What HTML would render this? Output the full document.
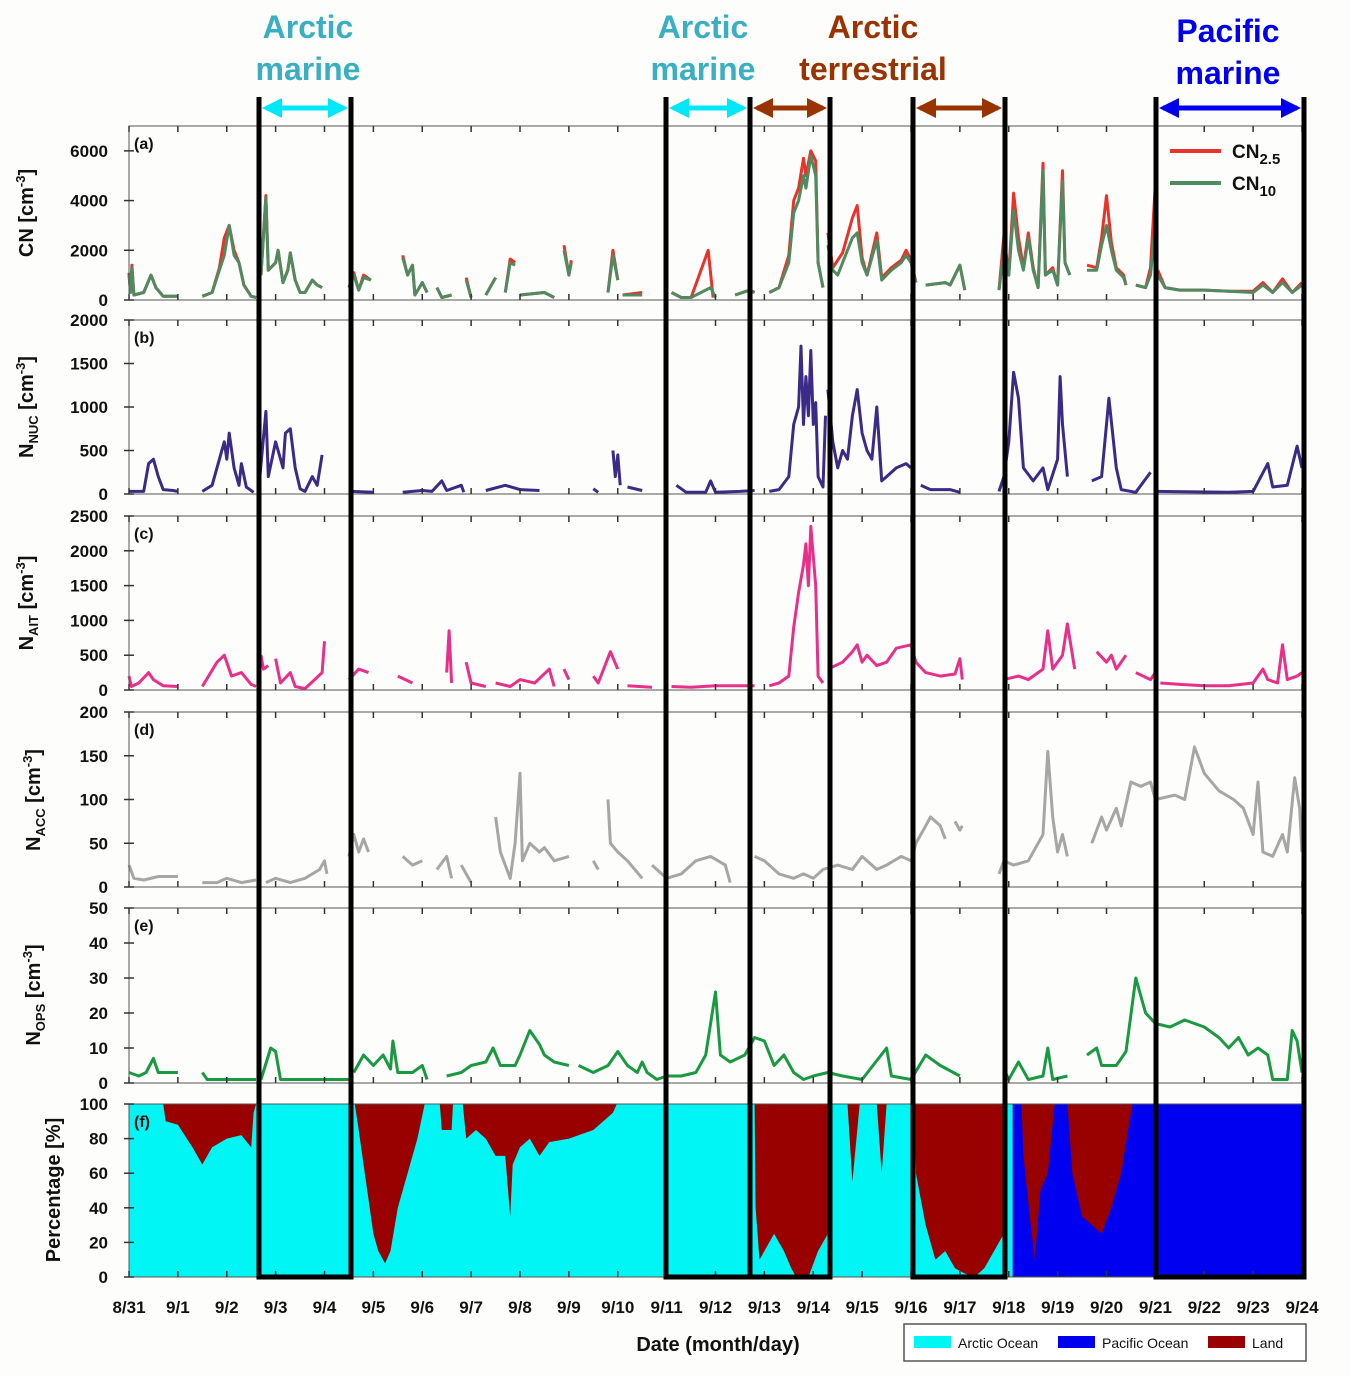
<!DOCTYPE html>
<html><head><meta charset="utf-8"><style>
body{margin:0;background:#fdfdfb;}
svg{display:block;font-family:"Liberation Sans",Arial,sans-serif;}
</style></head><body>
<svg id="c" width="1351" height="1376" viewBox="0 0 1351 1376"></svg>
<script>
const dayLabels=["8/31","9/1","9/2","9/3","9/4","9/5","9/6","9/7","9/8","9/9","9/10","9/11","9/12","9/13","9/14","9/15","9/16","9/17","9/18","9/19","9/20","9/21","9/22","9/23","9/24"];
const cn25=[[0,1100],[0.03,300],[0.06,1400],[0.1,200],[0.3,300],[0.45,1000],[0.55,500],[0.7,150],[1.0,150],null,[1.5,150],[1.7,300],[1.85,1300],[1.95,2500],[2.05,3000],[2.15,2000],[2.25,1500],[2.35,600],[2.5,150],[2.6,100],null,[2.7,1000],[2.8,4200],[2.85,1200],[3.0,1500],[3.05,2000],[3.15,700],[3.25,1200],[3.3,1900],[3.4,800],[3.5,300],[3.6,300],[3.75,800],[3.85,600],[3.95,500],null,[4.5,500],[4.6,1100],[4.7,400],[4.8,1000],[4.95,800],null,[5.6,1800],[5.7,1000],[5.8,1400],[5.85,200],[6.0,700],[6.1,300],null,[6.3,500],[6.4,100],[6.6,200],null,[6.9,900],[7.0,100],null,[7.3,200],[7.5,900],null,[7.7,300],[7.8,1650],[7.9,1500],null,[8.0,200],[8.5,300],[8.7,100],null,[8.9,2200],[9.0,1000],[9.05,1600],null,[9.8,300],[9.9,2000],[10.0,800],null,[10.1,200],[10.5,300],null,[11.1,300],[11.3,100],[11.5,100],[11.85,2000],[11.95,100],null,[12.4,200],[12.7,400],[12.8,300],null,[13.1,300],[13.3,500],[13.5,1800],[13.6,4000],[13.7,4500],[13.8,5700],[13.85,5000],[13.95,6000],[14.05,5600],[14.1,1500],[14.2,500],null,[14.3,2700],[14.4,1300],[14.5,1600],[14.6,1900],[14.8,3300],[14.9,3800],[15.0,1700],[15.1,1000],[15.3,2700],[15.4,900],[15.6,1300],[15.8,1600],[15.9,2000],[16.0,1600],[16.1,700],null,[16.3,600],[16.7,700],[16.8,600],[17.0,1400],[17.1,400],null,[17.8,400],[17.9,2600],[18.0,1000],[18.1,4300],[18.2,2500],[18.3,1300],[18.4,2700],[18.5,1300],[18.6,500],[18.7,5500],[18.75,1000],[18.9,1300],[19.0,600],[19.1,5200],[19.15,1500],[19.25,1000],null,[19.6,1400],[19.8,1300],[19.9,2500],[20.0,4200],[20.1,2300],[20.2,1300],[20.35,1000],[20.4,600],null,[20.6,600],[20.8,500],[20.9,1300],[21.0,4700],null,[21.05,1200],[21.2,500],[21.5,400],[22,400],[22.5,350],[23,350],[23.2,700],[23.4,300],[23.6,850],[23.8,300],[24,700]];
const cn10=[[0,1000],[0.03,300],[0.06,1300],[0.1,200],[0.3,300],[0.45,1000],[0.55,500],[0.7,150],[1.0,150],null,[1.5,150],[1.7,300],[1.85,1200],[1.95,1800],[2.05,3000],[2.15,1800],[2.25,1500],[2.35,600],[2.5,150],[2.6,100],null,[2.7,1000],[2.8,4100],[2.85,1200],[3.0,1500],[3.05,2000],[3.15,700],[3.25,1200],[3.3,1900],[3.4,800],[3.5,300],[3.6,300],[3.75,800],[3.85,600],[3.95,500],null,[4.5,500],[4.6,1000],[4.7,400],[4.8,900],[4.95,800],null,[5.6,1700],[5.7,1000],[5.8,1400],[5.85,200],[6.0,700],[6.1,300],null,[6.3,500],[6.4,100],[6.6,200],null,[6.9,800],[7.0,100],null,[7.3,200],[7.5,900],null,[7.7,300],[7.8,1500],[7.9,1400],null,[8.0,200],[8.5,300],[8.7,100],null,[8.9,2000],[9.0,1000],[9.05,1500],null,[9.8,300],[9.9,1800],[10.0,800],null,[10.1,200],[10.5,200],null,[11.1,300],[11.3,100],[11.5,100],[11.9,500],[12.0,100],null,[12.4,200],[12.7,400],[12.8,300],null,[13.1,300],[13.3,500],[13.5,1500],[13.6,3500],[13.7,4000],[13.8,5000],[13.85,4500],[13.95,5800],[14.05,5000],[14.1,1500],[14.2,500],null,[14.3,2200],[14.4,1200],[14.5,1000],[14.6,1500],[14.8,2500],[14.9,2700],[15.0,1500],[15.1,1000],[15.3,2400],[15.4,800],[15.6,1200],[15.8,1500],[15.9,1800],[16.0,1500],[16.1,700],null,[16.3,600],[16.7,700],[16.8,600],[17.0,1400],[17.1,400],null,[17.8,400],[17.9,2000],[18.0,1000],[18.1,3600],[18.2,2000],[18.3,1200],[18.4,2500],[18.5,1200],[18.6,500],[18.7,5200],[18.75,1000],[18.9,1200],[19.0,600],[19.1,4800],[19.15,1500],[19.25,1000],null,[19.6,1200],[19.8,1200],[19.9,2200],[20.0,3000],[20.1,2000],[20.2,1200],[20.35,900],[20.4,600],null,[20.6,600],[20.8,500],[20.9,1000],[21.0,3000],null,[21.05,1000],[21.2,500],[21.5,400],[22,400],[22.5,350],[23,300],[23.2,600],[23.4,300],[23.6,700],[23.8,300],[24,600]];
const nNuc=[[0,30],[0.3,30],[0.4,350],[0.5,400],[0.6,200],[0.7,50],[0.9,40],[1.0,30],null,[1.5,30],[1.7,100],[1.85,400],[1.95,600],[2.0,400],[2.05,700],[2.15,300],[2.25,100],[2.3,350],[2.4,80],[2.55,20],null,[2.65,30],[2.8,950],[2.85,200],[3.0,600],[3.05,500],[3.15,300],[3.2,700],[3.3,750],[3.4,300],[3.5,60],[3.6,30],[3.75,200],[3.85,100],[3.95,450],null,[4.55,30],[5.0,20],null,[5.6,20],[6.0,40],[6.2,30],[6.4,150],[6.5,40],[6.8,100],[6.85,20],null,[7.3,40],[7.7,100],[8.0,50],[8.4,40],null,[9.5,60],[9.6,20],null,[9.9,500],[9.95,200],[10.0,450],[10.05,100],null,[10.2,80],[10.5,40],null,[11.2,100],[11.4,20],[11.8,20],[11.9,150],[12.0,20],[12.5,30],[12.8,40],null,[13.1,30],[13.3,50],[13.5,200],[13.6,800],[13.7,1000],[13.75,1700],[13.8,800],[13.85,1350],[13.9,900],[13.95,1650],[14.0,800],[14.05,1050],[14.1,200],[14.2,80],[14.25,900],null,[14.3,1200],[14.4,600],[14.5,300],[14.6,500],[14.7,400],[14.8,900],[14.9,1200],[15.0,700],[15.1,500],[15.2,400],[15.3,1000],[15.4,150],[15.5,200],[15.7,300],[15.9,350],[16.0,300],null,[16.2,100],[16.4,50],[16.8,50],[17.0,20],null,[17.8,30],[17.9,200],[18.0,600],[18.1,1400],[18.2,1100],[18.3,300],[18.5,150],[18.7,300],[18.8,50],[19.0,400],[19.05,1350],[19.1,800],[19.2,200],null,[19.7,150],[19.9,200],[20.0,800],[20.05,1100],[20.2,300],[20.3,50],[20.6,20],[20.9,250],null,[21.0,30],[22.5,20],[23.0,30],[23.3,350],[23.4,80],[23.7,100],[23.9,550],[24,300]];
const nAit=[[0,200],[0.05,50],[0.2,100],[0.4,250],[0.5,150],[0.7,60],[1.0,50],null,[1.5,50],[1.8,400],[1.95,500],[2.1,200],[2.3,250],[2.5,80],[2.6,50],null,[2.7,500],[2.75,300],[2.85,350],null,[3.0,450],[3.1,100],[3.3,250],[3.4,50],[3.6,20],[3.8,150],[3.95,250],[4.0,700],null,[4.5,150],[4.7,300],[4.9,250],null,[5.5,200],[5.8,100],null,[6.3,550],null,[6.5,250],[6.55,850],[6.6,100],null,[6.9,400],[7.0,100],[7.3,50],null,[7.5,100],[7.8,50],[8.0,150],[8.3,100],[8.6,300],[8.7,50],null,[8.9,300],[9.0,150],null,[9.5,200],[9.6,100],[9.85,550],[10.0,300],null,[10.2,60],[10.7,40],null,[11.1,50],[11.5,40],[12.0,60],[12.8,60],null,[13.1,60],[13.3,100],[13.5,200],[13.6,900],[13.7,1400],[13.8,1800],[13.85,2100],[13.9,1500],[13.95,2350],[14.05,1500],[14.1,200],[14.2,100],null,[14.3,300],[14.6,400],[14.8,550],[14.9,650],[15.0,400],[15.1,500],[15.3,350],[15.5,400],[15.7,600],[16.0,650],[16.1,400],[16.3,250],[16.6,200],[16.9,230],[17.0,450],[17.05,150],null,[17.9,150],[18.2,200],[18.4,150],[18.7,300],[18.8,850],[18.9,300],[19.1,500],[19.2,950],[19.35,300],null,[19.8,550],[20.0,400],[20.1,500],[20.2,300],[20.4,500],null,[20.6,250],[20.9,150],[21.0,250],null,[21.1,100],[21.5,80],[22,60],[22.5,60],[23.0,100],[23.2,300],[23.3,150],[23.5,100],[23.6,650],[23.7,150],[23.9,200],[24,250]];
const nAcc=[[0,25],[0.1,10],[0.3,8],[0.6,12],[1.0,12],null,[1.5,5],[1.8,5],[2.0,10],[2.3,5],[2.6,8],null,[2.8,5],[3.0,10],[3.3,5],[3.6,10],[3.9,20],[4.0,30],[4.05,15],null,[4.5,35],[4.6,60],[4.7,40],[4.8,55],[4.9,40],null,[5.6,35],[5.8,25],[6.0,30],null,[6.3,20],[6.5,35],[6.6,10],null,[6.8,25],[7.0,5],null,[7.5,80],[7.6,40],[7.8,10],[7.9,50],[8.0,130],[8.05,30],[8.2,50],[8.4,40],[8.5,45],[8.7,30],[9.0,35],null,[9.5,30],[9.6,20],null,[9.8,100],[9.85,50],[10.0,40],[10.2,30],[10.5,10],null,[10.7,25],[11.0,10],[11.3,15],[11.6,30],[11.9,35],[12.2,25],[12.3,5],null,[12.8,35],[13.0,30],[13.3,15],[13.6,10],[13.8,15],[14.0,10],[14.2,20],[14.5,25],[14.8,20],[15.0,35],[15.3,20],[15.5,25],[15.8,35],[16.0,30],[16.1,50],[16.3,70],[16.4,80],[16.6,70],[16.7,55],null,[16.9,75],[17.0,65],[17.05,70],null,[17.8,15],[17.9,30],[18.1,25],[18.4,30],[18.7,60],[18.8,155],[18.9,80],[19.0,40],[19.1,60],[19.2,35],null,[19.7,50],[19.9,80],[20.0,65],[20.2,90],[20.3,70],[20.5,120],[20.7,115],[20.9,120],[21.0,100],[21.4,105],[21.6,100],[21.8,160],[22.0,130],[22.3,110],[22.6,100],[22.8,90],[23.0,60],[23.1,120],[23.2,40],[23.4,35],[23.6,60],[23.7,40],[23.85,125],[23.95,90],[24,40]];
const nOps=[[0,3],[0.2,2],[0.35,3],[0.5,7],[0.6,3],[0.8,3],[1.0,3],null,[1.5,3],[1.6,1],[2.0,1],[2.6,1],null,[2.7,1],[2.9,10],[3.0,9],[3.1,1],[3.5,1],[4.0,1],[4.5,1],null,[4.6,3],[4.8,8],[5.0,5],[5.2,8],[5.35,4],[5.4,12],[5.5,3],[5.8,3],[6.0,5],[6.1,1],null,[6.5,2],[6.8,3],[7.0,5],[7.3,6],[7.45,10],[7.6,5],[7.9,5],[8.0,8],[8.2,15],[8.4,11],[8.5,8],[8.7,6],[9.0,5],null,[9.2,5],[9.5,3],[9.8,5],[10.0,9],[10.2,5],[10.4,3],[10.5,6],[10.6,3],[10.8,1],[11.0,2],[11.3,2],[11.6,3],[11.8,8],[12.0,26],[12.1,8],[12.3,6],[12.6,8],[12.8,13],[13.0,12],[13.2,5],[13.4,8],[13.6,3],[13.8,1],[14.0,2],[14.3,3],[14.6,2],[15.0,1],[15.5,10],[15.6,2],[16.0,1],[16.3,8],[16.6,5],[17.0,2],null,[17.9,4],[18.0,1],[18.2,6],[18.4,1],[18.7,2],[18.8,10],[18.9,1],[19.2,2],null,[19.6,8],[19.8,10],[19.9,5],[20.2,5],[20.4,9],[20.6,30],[20.7,25],[20.8,20],[21.0,17],[21.3,16],[21.6,18],[22.0,16],[22.3,13],[22.5,10],[22.7,13],[22.9,8],[23.1,10],[23.3,8],[23.4,1],[23.7,1],[23.8,15],[23.9,12],[24,3]];
const landPct=[[0.7,0],[0.75,10],[1.0,12],[1.3,25],[1.5,35],[1.7,25],[2.0,20],[2.3,18],[2.5,25],[2.55,5],[2.6,0],null,[4.62,0],[4.7,15],[4.85,45],[5.0,75],[5.1,85],[5.24,92],[5.35,85],[5.5,60],[5.7,40],[5.9,20],[6.05,0],null,[6.36,0],[6.4,15],[6.6,15],[6.63,0],null,[6.83,0],[6.9,20],[7.1,15],[7.3,20],[7.5,30],[7.7,30],[7.8,65],[7.85,35],[8.0,25],[8.2,20],[8.4,30],[8.6,22],[9.0,20],[9.5,15],[9.9,5],[9.98,0],null,[12.8,0],[12.82,60],[12.9,90],[13.0,85],[13.2,75],[13.4,85],[13.55,95],[13.65,100],[13.9,100],[14.1,85],[14.3,75],[14.38,0],null,[14.7,0],[14.8,45],[14.95,0],null,[15.3,0],[15.4,40],[15.5,0],null,[16.07,0],[16.1,40],[16.3,70],[16.5,90],[16.7,85],[16.9,95],[17.1,98],[17.3,100],[17.5,95],[17.7,85],[17.9,75],[17.92,0],null,[18.26,0],[18.3,30],[18.45,70],[18.53,90],[18.65,50],[18.8,40],[18.94,0],null,[19.2,0],[19.3,40],[19.5,65],[19.7,70],[19.9,75],[20.1,60],[20.3,40],[20.53,0]];
const pacificStart=[18.08];
const yTicksA=[0,2000,4000,6000],yTicksB=[0,500,1000,1500,2000],yTicksC=[0,500,1000,1500,2000,2500],yTicksD=[0,50,100,150,200],yTicksE=[0,10,20,30,40,50],yTicksF=[0,20,40,60,80,100];

const NS="http://www.w3.org/2000/svg",svg=document.getElementById('c');
function mk(tag,attrs,parent){const e=document.createElementNS(NS,tag);for(const k in attrs)e.setAttribute(k,attrs[k]);(parent||svg).appendChild(e);return e;}
const X0=129,X1=1302;
const xS=t=>X0+t*(X1-X0)/24;
const panels=[
 {k:'a',top:126,bot:300,max:7000,ticks:yTicksA},
 {k:'b',top:320,bot:494,max:2000,ticks:yTicksB},
 {k:'c',top:516,bot:690,max:2500,ticks:yTicksC},
 {k:'d',top:712,bot:887,max:200,ticks:yTicksD},
 {k:'e',top:908,bot:1083,max:50,ticks:yTicksE},
 {k:'f',top:1104,bot:1277,max:100,ticks:yTicksF}];
function yS(p,v){return p.bot-v/p.max*(p.bot-p.top);}
function pathOf(p,data){let d='',pen=false;for(const pt of data){if(!pt){pen=false;continue;}d+=(pen?'L':'M')+xS(pt[0]).toFixed(1)+' '+yS(p,pt[1]).toFixed(1);pen=true;}return d;}

// panel f fills
const pf=panels[5];
let r=mk('rect',{x:X0,y:pf.top,width:X1-X0,height:pf.bot-pf.top,fill:'#00f5f5'});

r=mk('rect',{x:xS(pacificStart[0]),y:pf.top,width:X1-xS(pacificStart[0]),height:pf.bot-pf.top,fill:'#0000f0'});

{let seg=[];const segs=[];for(const pt of landPct){if(!pt){segs.push(seg);seg=[];}else seg.push(pt);}segs.push(seg);
 for(const s of segs){let d='M'+xS(s[0][0])+' '+pf.top;for(const pt of s)d+='L'+xS(pt[0]).toFixed(1)+' '+yS(pf,100-pt[1]).toFixed(1);d+='L'+xS(s[s.length-1][0])+' '+pf.top+'Z';
  const e=mk('path',{d:d,fill:'#990000'});
  }}

// series
function series(p,data,color,w,name){const e=mk('path',{d:pathOf(p,data),fill:'none',stroke:color,'stroke-width':w,'stroke-linejoin':'round'});
 }
series(panels[0],cn25,'#e8322a',3,'cn25-line');
series(panels[0],cn10,'#4f8a60',3,'cn10-line');
series(panels[1],nNuc,'#3b2a86',3,'nnuc-line');
series(panels[2],nAit,'#e8308a',3,'nait-line');
series(panels[3],nAcc,'#a6a6a6',3,'nacc-line');
series(panels[4],nOps,'#1a9a40',3,'nops-line');

// frames, ticks
panels.forEach(p=>{
 const f=mk('rect',{x:X0,y:p.top,width:X1-X0,height:p.bot-p.top,fill:'none',stroke:'#555','stroke-width':1});
 
 for(let i=0;i<=24;i++){const x=xS(i);
  const t=mk('line',{x1:x,x2:x,y1:p.bot,y2:p.bot-6,stroke:'#333','stroke-width':1.5});
  
  if(p.k!=='f'){const t2=mk('line',{x1:x,x2:x,y1:p.top,y2:p.top+6,stroke:'#333','stroke-width':1.5});
  }}
 p.ticks.forEach(v=>{const y=yS(p,v);
  const t=mk('line',{x1:X0-5,x2:X0+5,y1:y,y2:y,stroke:'#333','stroke-width':1.5});
  
  const l=mk('text',{x:108,y:y+6,'text-anchor':'end','font-size':17,'font-weight':'bold',fill:'#111'});l.textContent=v;
  });
 const lab=mk('text',{x:X0+5,y:p.top+23,'font-size':16,'font-weight':'bold',fill:'#111'});lab.textContent='('+p.k+')';
 
});
dayLabels.forEach((s,i)=>{const l=mk('text',{x:xS(i),y:1313,'text-anchor':'middle','font-size':17,'font-weight':'bold',fill:'#111'});l.textContent=s;
 });
</script>
<svg width="1351" height="1376" style="position:absolute;left:0;top:0" font-family="Liberation Sans, Arial, sans-serif" font-weight="bold">
 <defs>
  <marker id="ah" viewBox="0 0 10 10" refX="8" refY="5" markerWidth="4" markerHeight="4" orient="auto-start-reverse"><path d="M0 0L10 5L0 10Z" fill="context-stroke"/></marker>
 </defs>
 <g font-size="20" fill="#111">
  <text x="33" y="213" transform="rotate(-90 33 213)" text-anchor="middle">CN [cm<tspan font-size="13" dy="-8">-3</tspan><tspan dy="8">]</tspan></text>
  <text x="33" y="407" transform="rotate(-90 33 407)" text-anchor="middle">N<tspan font-size="13" dy="5">NUC</tspan><tspan dy="-5"> [cm</tspan><tspan font-size="13" dy="-8">-3</tspan><tspan dy="8">]</tspan></text>
  <text x="33" y="603" transform="rotate(-90 33 603)" text-anchor="middle">N<tspan font-size="13" dy="5">AIT</tspan><tspan dy="-5"> [cm</tspan><tspan font-size="13" dy="-8">-3</tspan><tspan dy="8">]</tspan></text>
  <text x="40" y="800" transform="rotate(-90 40 800)" text-anchor="middle">N<tspan font-size="13" dy="5">ACC</tspan><tspan dy="-5"> [cm</tspan><tspan font-size="13" dy="-8">-3</tspan><tspan dy="8">]</tspan></text>
  <text x="40" y="995" transform="rotate(-90 40 995)" text-anchor="middle">N<tspan font-size="13" dy="5">OPS</tspan><tspan dy="-5"> [cm</tspan><tspan font-size="13" dy="-8">-3</tspan><tspan dy="8">]</tspan></text>
  <text x="60" y="1190" transform="rotate(-90 60 1190)" text-anchor="middle">Percentage [%]</text>
  <text x="718" y="1351" text-anchor="middle">Date (month/day)</text>
 </g>
 <g stroke="#000" stroke-width="5" fill="none">
  <path d="M259 97V1277H351V97"/><path d="M666 97V1277H750V97"/><path d="M750 97V1277H830V97"/><path d="M913 97V1277H1005V97"/><path d="M1156 97V1277H1304V97"/>
 </g>
 <g stroke-width="5" marker-start="url(#ah)" marker-end="url(#ah)">
  <line x1="266" y1="108" x2="344" y2="108" stroke="#00e8f8"/>
  <line x1="673" y1="108" x2="743" y2="108" stroke="#00e8f8"/>
  <line x1="757" y1="108" x2="823" y2="108" stroke="#993300"/>
  <line x1="920" y1="108" x2="998" y2="108" stroke="#993300"/>
  <line x1="1163" y1="108" x2="1297" y2="108" stroke="#0000ee"/>
 </g>
 <g font-size="32" text-anchor="middle">
  <text x="308" y="38" fill="#3aafc2">Arctic</text>
  <text x="308" y="80" fill="#3aafc2">marine</text>
  <text x="703" y="38" fill="#3aafc2">Arctic</text>
  <text x="703" y="80" fill="#3aafc2">marine</text>
  <text x="873" y="38" fill="#993300">Arctic</text>
  <text x="873" y="80" fill="#993300">terrestrial</text>
  <text x="1228" y="42" fill="#0000ee">Pacific</text>
  <text x="1228" y="84" fill="#0000ee">marine</text>
 </g>
 <g font-size="19" fill="#111">
  <line x1="1170" y1="151" x2="1221" y2="151" stroke="#e8322a" stroke-width="4"/>
  <text x="1232" y="158">CN<tspan font-size="15" dy="6">2.5</tspan></text>
  <line x1="1170" y1="183" x2="1221" y2="183" stroke="#4f8a60" stroke-width="4"/>
  <text x="1232" y="190">CN<tspan font-size="15" dy="6">10</tspan></text>
 </g>
 <g font-size="14" font-weight="normal" fill="#111">
  <rect x="904" y="1324" width="402" height="37" fill="#fff" stroke="#555" stroke-width="1.5"/>
  <rect x="914" y="1336" width="37" height="12" fill="#00f5f5"/><text x="958" y="1348">Arctic Ocean</text>
  <rect x="1058" y="1336" width="37" height="12" fill="#0000f0"/><text x="1102" y="1348">Pacific Ocean</text>
  <rect x="1208" y="1336" width="37" height="12" fill="#990000"/><text x="1252" y="1348">Land</text>
 </g>
</svg>
</body></html>
